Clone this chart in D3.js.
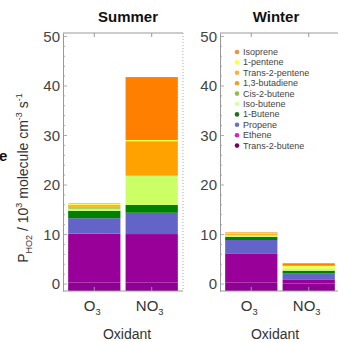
<!DOCTYPE html>
<html>
<head>
<meta charset="utf-8">
<script src="https://cdn.jsdelivr.net/npm/d3@7"></script>
<style>
  html, body { margin: 0; padding: 0; background: #fff; }
  svg { display: block; font-family: "Liberation Sans", Arial, sans-serif; }
</style>
</head>
<body>
<svg id="chart" width="338" height="341"></svg>
<script>
// HO2 production rate from alkene ozonolysis / NO3 oxidation, by season
const oxidants = ["O3", "NO3"];
const seasons = ["Summer", "Winter"];
// species listed bottom-of-stack first
const species = ["Trans-2-butene", "Ethene", "Propene", "1-Butene", "Iso-butene",
                 "Cis-2-butene", "1,3-butadiene", "Trans-2-pentene", "1-pentene", "Isoprene"];
const speciesColors = ["#8e0094", "#990099", "#6464c8", "#008000", "#ccff66",
                       "#99cc33", "#ffa200", "#ffb400", "#ffff44", "#ff7f00"];
const legendColors = ["#800060", "#e020c0", "#7070c0", "#207020", "#d8ffa0",
                      "#90c040", "#f0a020", "#ffb040", "#ffff40", "#f09040"];
// values in 10^3 molecule cm^-3 s^-1, same order as species
const summerO3  = [0.3, 9.9, 3.1, 1.5, 0.4, 0.2, 0.3, 0.3, 0.2, 0.1];
const summerNO3 = [0.3, 9.8, 4.3, 1.6, 5.8, 0.1, 6.9, 0.1, 0.2, 12.7];
const winterO3  = [0.3, 5.9, 2.7, 0.65, 0.3, 0.1, 0.2, 0.1, 0.15, 0.1];
const winterNO3 = [0.1, 0.85, 1.25, 0.5, 0.5, 0.0, 0.0, 0.0, 0.5, 0.5];
const yTicks = [0, 10, 20, 30, 40, 50];

const svg = d3.select("#chart");
const yMin = -1.4, yMax = 50.7;
const y = d3.scaleLinear().domain([yMin, yMax]).range([291, 33]);

const panels = [
  { season: "Summer", x0: 63, titleX: 128, data: [summerO3, summerNO3], legend: false },
  { season: "Winter", x0: 220, titleX: 276, data: [winterO3, winterNO3], legend: true }
];

function subLabel(g, x, yy, base, sub, size) {
  const t = g.append("text").attr("x", x).attr("y", yy).attr("text-anchor", "middle")
    .attr("font-size", size).attr("fill", "#333");
  t.append("tspan").text(base);
  t.append("tspan").attr("font-size", size * 0.62).attr("dy", 4).text(sub);
  return t;
}

panels.forEach(p => {
  const g = svg.append("g");
  const x = d3.scaleBand().domain(oxidants).range([p.x0, p.x0 + 120])
    .paddingInner(0.09).paddingOuter(0.09);

  // stacked bars
  const rows = oxidants.map((o, i) => {
    const r = { oxidant: o };
    species.forEach((s, k) => r[s] = p.data[i][k]);
    return r;
  });
  const stacked = d3.stack().keys(species)(rows);
  stacked.forEach((layer, k) => {
    g.selectAll(null).data(layer).join("rect")
      .attr("x", d => x(d.data.oxidant))
      .attr("width", x.bandwidth())
      .attr("y", d => y(d[1]))
      .attr("height", d => (d[0] === 0 ? y(yMin) : y(d[0])) - y(d[1]))
      .attr("fill", speciesColors[k]);
  });

  // frame
  const fx0 = p.x0, fx1 = p.x0 + 120, fy0 = y(yMax), fy1 = y(yMin);
  g.append("line").attr("x1", fx0).attr("x2", fx1).attr("y1", fy0).attr("y2", fy0)
    .attr("stroke", "#999").attr("stroke-width", 1);
  g.append("line").attr("x1", fx0).attr("x2", fx1).attr("y1", fy1).attr("y2", fy1)
    .attr("stroke", "#999").attr("stroke-width", 1);
  g.append("line").attr("x1", fx1).attr("x2", fx1).attr("y1", fy0).attr("y2", fy1)
    .attr("stroke", "#aaa").attr("stroke-width", 1).attr("stroke-dasharray", "1,2");

  // left axis with minor ticks
  const yAxis = d3.axisLeft(y).tickValues(yTicks).tickSize(0).tickPadding(3);
  const ax = g.append("g").attr("transform", `translate(${fx0},0)`).call(yAxis);
  ax.select(".domain").attr("stroke", "#999");
  ax.selectAll("text").attr("font-size", 15).attr("fill", "#444")
    .attr("font-family", "Liberation Sans, Arial, sans-serif");
  d3.range(0, 51, 2).forEach(v => {
    const major = v % 10 === 0;
    g.append("line").attr("x1", fx0).attr("x2", fx0 + (major ? 4 : 2))
      .attr("y1", y(v)).attr("y2", y(v)).attr("stroke", "#999").attr("stroke-width", 0.8);
  });
  // category ticks on top and bottom edges
  oxidants.forEach(o => {
    const cx = x(o) + x.bandwidth() / 2;
    g.append("line").attr("x1", cx).attr("x2", cx).attr("y1", fy0).attr("y2", fy0 + 4)
      .attr("stroke", "#999");
    g.append("line").attr("x1", cx).attr("x2", cx).attr("y1", fy1).attr("y2", fy1 - 4)
      .attr("stroke", "#999");
  });

  // category labels
  subLabel(g, x("O3") + x.bandwidth() / 2 - 2, 311, "O", "3", 15);
  subLabel(g, x("NO3") + x.bandwidth() / 2 - 2, 311, "NO", "3", 15);
  g.append("text").attr("x", p.titleX - 1).attr("y", 339).attr("text-anchor", "middle")
    .attr("font-size", 14).attr("fill", "#333").text("Oxidant");

  // season title
  g.append("text").attr("x", p.titleX).attr("y", 22).attr("text-anchor", "middle")
    .attr("font-size", 15).attr("font-weight", "bold").attr("fill", "#111").text(p.season);

  if (p.legend) {
    const legendOrder = species.map((s, k) => ({ s, c: legendColors[k] })).reverse();
    const lg = g.append("g");
    legendOrder.forEach((d, i) => {
      const ly = 52 + i * 10.4;
      lg.append("circle").attr("cx", 237).attr("cy", ly).attr("r", 2.3).attr("fill", d.c);
      lg.append("text").attr("x", 243).attr("y", ly + 3).attr("font-size", 9)
        .attr("fill", "#444").text(d.s);
    });
  }
});

// y-axis title
const yt = svg.append("text")
  .attr("transform", "translate(28,178) rotate(-90)")
  .attr("text-anchor", "middle").attr("font-size", 14).attr("fill", "#333");
yt.append("tspan").text("P");
yt.append("tspan").attr("font-size", 9).attr("dy", 4).text("HO2");
yt.append("tspan").attr("dy", -4).text(" / 10");
yt.append("tspan").attr("font-size", 9).attr("dy", -6).text("3");
yt.append("tspan").attr("dy", 6).text(" molecule cm");
yt.append("tspan").attr("font-size", 9).attr("dy", -6).text("-3");
yt.append("tspan").attr("dy", 6).text(" s");
yt.append("tspan").attr("font-size", 9).attr("dy", -6).text("-1");

// edge of a neighbouring label
svg.append("text").attr("x", -1).attr("y", 161).attr("font-size", 15)
  .attr("font-weight", "bold").attr("fill", "#111").text("e");
</script>
</body>
</html>
